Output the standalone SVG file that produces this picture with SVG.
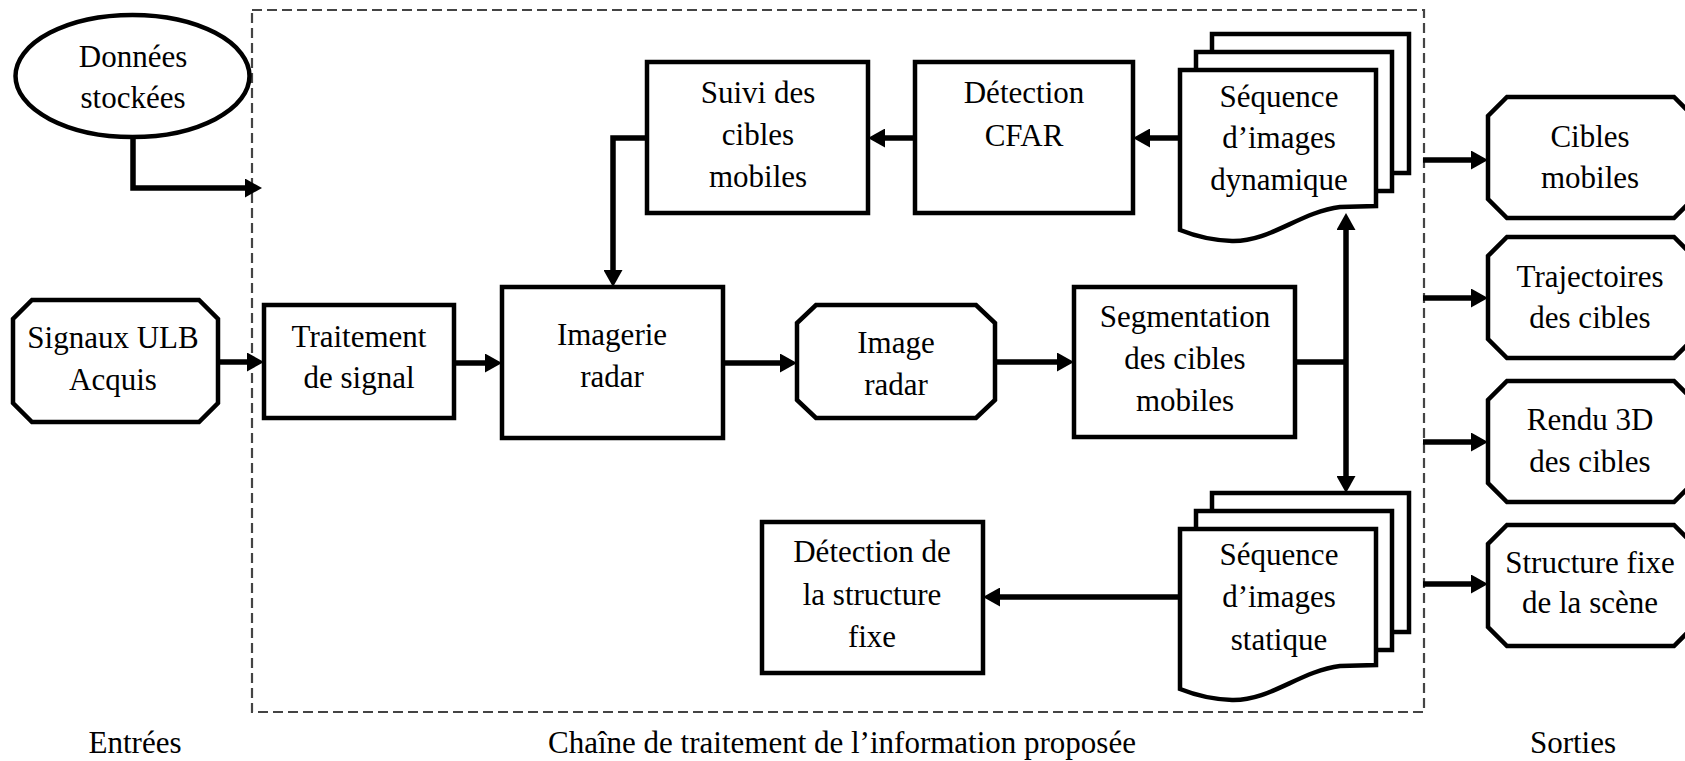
<svg xmlns="http://www.w3.org/2000/svg" width="1685" height="761" viewBox="0 0 1685 761">
<style>
.b{fill:#fff;stroke:#000;stroke-width:4.5;stroke-linejoin:miter}
.t{font-family:'Liberation Serif',serif;font-size:31px;fill:#000;text-anchor:middle}
.c{fill:none;stroke:#000;stroke-width:5.5}
.a{marker-end:url(#ah)}
</style>
<defs>
<marker id="ah" markerUnits="userSpaceOnUse" viewBox="0 0 17 19" refX="8" refY="9.5" markerWidth="17" markerHeight="19" orient="auto">
<path d="M0,0 L17,9.5 L0,19 z" fill="#000"/>
</marker>
</defs>
<rect id="frame" x="252" y="10" width="1172" height="702" fill="none" stroke="#444" stroke-width="2.2" stroke-dasharray="10,5"/>
<g id="donnees">
<ellipse class="b" cx="132.5" cy="76" rx="117" ry="61"/>
<text class="t" x="133" y="67">Données</text>
<text class="t" x="133" y="108">stockées</text>
</g>
<g id="signaux">
<polygon class="b" points="32,300 199,300 218,319 218,403 199,422 32,422 13,403 13,319"/>
<text class="t" x="113" y="348">Signaux ULB</text>
<text class="t" x="113" y="390">Acquis</text>
</g>
<g id="traitement">
<rect class="b" x="264" y="305" width="190" height="113"/>
<text class="t" x="359" y="347">Traitement</text>
<text class="t" x="359" y="388">de signal</text>
</g>
<g id="imagerie">
<rect class="b" x="502" y="287" width="221" height="151"/>
<text class="t" x="612" y="345">Imagerie</text>
<text class="t" x="612" y="387">radar</text>
</g>
<g id="image-radar">
<polygon class="b" points="816,305 976,305 995,323 995,400 976,418 816,418 797,400 797,323"/>
<text class="t" x="896" y="353">Image</text>
<text class="t" x="896" y="395">radar</text>
</g>
<g id="segmentation">
<rect class="b" x="1074" y="287" width="221" height="150"/>
<text class="t" x="1185" y="327">Segmentation</text>
<text class="t" x="1185" y="369">des cibles</text>
<text class="t" x="1185" y="411">mobiles</text>
</g>
<g id="suivi">
<rect class="b" x="647" y="62" width="221" height="151"/>
<text class="t" x="758" y="103">Suivi des</text>
<text class="t" x="758" y="145">cibles</text>
<text class="t" x="758" y="187">mobiles</text>
</g>
<g id="cfar">
<rect class="b" x="915" y="62" width="218" height="151"/>
<text class="t" x="1024" y="103">Détection</text>
<text class="t" x="1024" y="146">CFAR</text>
</g>
<g id="seq-dynamique">
<rect class="b" x="1212" y="34" width="197" height="139"/>
<rect class="b" x="1196" y="52" width="196" height="139"/>
<path class="b" d="M1180,70 H1376 V206 L1340,207 C1300,212 1270,242 1232,241 Q1205,240 1180,230 Z"/>
<text class="t" x="1279" y="107">Séquence</text>
<text class="t" x="1279" y="148">d’images</text>
<text class="t" x="1279" y="190">dynamique</text>
</g>
<g id="seq-statique">
<rect class="b" x="1212" y="493" width="197" height="139"/>
<rect class="b" x="1196" y="511" width="196" height="139"/>
<path class="b" d="M1180,529 H1376 V665 L1340,666 C1300,671 1270,701 1232,700 Q1205,699 1180,689 Z"/>
<text class="t" x="1279" y="565">Séquence</text>
<text class="t" x="1279" y="607">d’images</text>
<text class="t" x="1279" y="650">statique</text>
</g>
<g id="detection-fixe">
<rect class="b" x="762" y="522" width="221" height="151"/>
<text class="t" x="872" y="562">Détection de</text>
<text class="t" x="872" y="605">la structure</text>
<text class="t" x="872" y="647">fixe</text>
</g>
<g id="out-cibles">
<polygon class="b" points="1507,97 1674,97 1693,116 1693,199 1674,218 1507,218 1488,199 1488,116"/>
<text class="t" x="1590" y="147">Cibles</text>
<text class="t" x="1590" y="188">mobiles</text>
</g>
<g id="out-trajectoires">
<polygon class="b" points="1507,237 1674,237 1693,256 1693,339 1674,358 1507,358 1488,339 1488,256"/>
<text class="t" x="1590" y="287">Trajectoires</text>
<text class="t" x="1590" y="328">des cibles</text>
</g>
<g id="out-rendu">
<polygon class="b" points="1507,381 1674,381 1693,400 1693,483 1674,502 1507,502 1488,483 1488,400"/>
<text class="t" x="1590" y="430">Rendu 3D</text>
<text class="t" x="1590" y="472">des cibles</text>
</g>
<g id="out-structure">
<polygon class="b" points="1507,525 1674,525 1693,544 1693,627 1674,646 1507,646 1488,627 1488,544"/>
<text class="t" x="1590" y="573">Structure fixe</text>
<text class="t" x="1590" y="613">de la scène</text>
</g>
<g id="labels">
<text class="t" x="135" y="753">Entrées</text>
<text class="t" x="842" y="753">Chaîne de traitement de l’information proposée</text>
<text class="t" x="1573" y="753">Sorties</text>
</g>
<g id="connectors">
<path class="c a" d="M133,137 V188 H253"/>
<path class="c a" d="M218,362 H255"/>
<path class="c a" d="M454,363 H493"/>
<path class="c a" d="M723,363 H788"/>
<path class="c a" d="M995,362 H1065"/>
<path class="c" d="M1295,362 H1346"/>
<path class="c a" d="M1346,362 V222"/>
<path class="c a" d="M1346,362 V484"/>
<path class="c a" d="M1180,138 H1142"/>
<path class="c a" d="M915,138 H877"/>
<path class="c a" d="M647,138 H613 V278"/>
<path class="c a" d="M1180,597 H992"/>
<path class="c a" d="M1423,160 H1479"/>
<path class="c a" d="M1423,298 H1479"/>
<path class="c a" d="M1423,442 H1479"/>
<path class="c a" d="M1423,584 H1479"/>
</g>
</svg>
